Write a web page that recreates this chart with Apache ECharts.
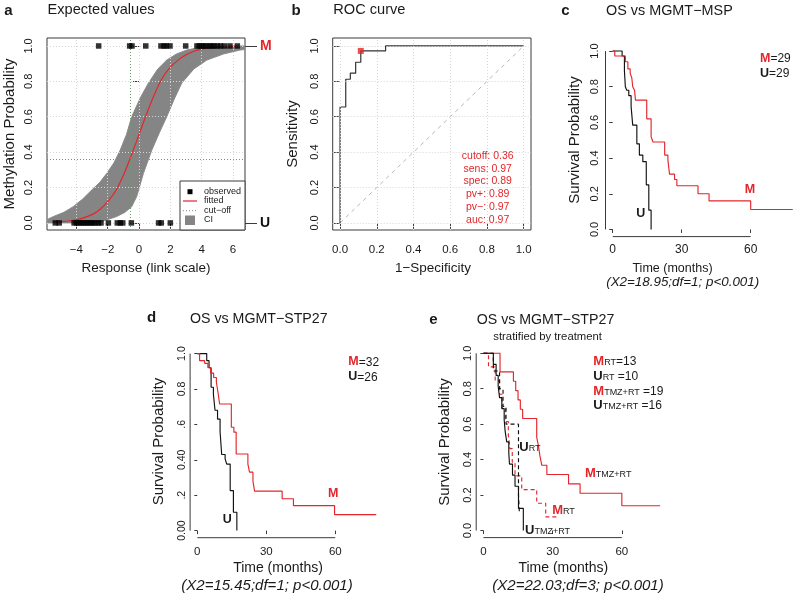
<!DOCTYPE html>
<html><head><meta charset="utf-8">
<script src="https://cdn.jsdelivr.net/npm/echarts@6/dist/echarts.min.js"></script>
<style>html,body{margin:0;padding:0;background:#fff}#c{width:793px;height:595px}</style>
</head><body><div id="c"></div>
<script>
// ===== Panel a: expected values =====
const aTicksX = [-4, -2, 0, 2, 4, 6];
const aTickLabelsX = ['\u22124', '\u22122', '0', '2', '4', '6'];
const probTicks = [0, 0.2, 0.4, 0.6, 0.8, 1];
const probTickLabels = ['0.0', '0.2', '0.4', '0.6', '0.8', '1.0'];
const dProbTickLabels = ['0.00', '.2', '0.40', '.6', '0.8', '1.0'];
const aRightTicks = [0, 1];
const aRightLabels = ['U', 'M'];
const aFitX = [-5.5, -5, -4.5, -4, -3.5, -3, -2.5, -2, -1.5, -1, -0.5, 0, 0.5, 1, 1.5, 2, 2.5, 3, 3.5, 4, 4.5, 5, 5.5, 6, 6.3];
const aFitY = [0.004, 0.007, 0.011, 0.018, 0.03, 0.047, 0.076, 0.12, 0.18, 0.27, 0.38, 0.5, 0.62, 0.73, 0.82, 0.88, 0.92, 0.95, 0.97, 0.982, 0.989, 0.993, 0.996, 0.998, 0.998];
const aCiUpperX = [-5.85, -5.47, -4.8, -4.2, -3.6, -3.02, -2.5, -2.06, -1.6, -1.21, -0.8, -0.47, 0.1, 0.6, 1.2, 1.77, 2.4, 3.05, 3.8, 4.5, 5.5, 6.75];
const aCiUpperY = [0.02, 0.036, 0.06, 0.092, 0.135, 0.186, 0.23, 0.28, 0.34, 0.41, 0.5, 0.6, 0.71, 0.79, 0.87, 0.92, 0.955, 0.977, 0.99, 0.995, 0.998, 1.0];
const aCiLowerX = [-5.85, -3.5, -2.5, -1.43, -0.9, -0.47, -0.15, 0.28, 0.81, 1.3, 1.77, 2.25, 2.73, 3.5, 4.33, 5.4, 6.45, 6.75];
const aCiLowerY = [0.0, 0.0, 0.005, 0.036, 0.06, 0.092, 0.149, 0.28, 0.41, 0.51, 0.6, 0.7, 0.79, 0.87, 0.92, 0.955, 0.977, 0.98];
const aObsM = [-2.58, -0.6, -0.45, 0.43, 1.4, 1.6, 1.75, 1.98, 2.98, 3.7, 3.85, 4.0, 4.15, 4.3, 4.5, 4.65, 4.8, 5.0, 5.2, 5.45, 5.81, 6.28];
const aObsU = [-5.35, -5.1, -4.15, -4.0, -3.85, -3.7, -3.55, -3.4, -3.25, -3.1, -2.95, -2.8, -2.6, -2.43, -1.96, -1.39, -1.2, -1.04, -0.49, 1.25, 1.42, 2.0];
const aCutoffResponse = -0.58;
const aCutoffProb = 0.36;

// ===== Panel b: ROC =====
const bTicks = [0, 0.2, 0.4, 0.6, 0.8, 1];
const bTickLabels = ['0.0', '0.2', '0.4', '0.6', '0.8', '1.0'];
const rocFpr = [0, 0, 0.031, 0.056, 0.085, 0.113, 0.248, 1];
const rocTpr = [0, 0.655, 0.812, 0.846, 0.908, 0.972, 1, 1];
const rocCut = [0.113, 0.972];
const chanceX = [0, 1];
const chanceY = [0, 1];
const rocStats = ['cutoff: 0.36', 'sens: 0.97', 'spec: 0.89', 'pv+: 0.89', 'pv\u2212: 0.97', 'auc: 0.97'];

// ===== KM panels =====
const timeTicks = [0, 30, 60];
const timeTickLabels = ['0', '30', '60'];
// c: OS vs MGMT-MSP
const cUTime = [0, 4.1, 5.1, 5.5, 6.1, 7.0, 8.0, 8.7, 10.5, 11.6, 13.1, 14.6, 15.7, 16.7];
const cUSurv = [1, 0.972, 0.89, 0.8, 0.78, 0.75, 0.69, 0.585, 0.48, 0.417, 0.38, 0.25, 0.108, 0];
const cMTime = [0, 0.9, 5.5, 6.6, 7.6, 8.3, 8.7, 9.5, 9.9, 14.8, 16.7, 17.5, 22.6, 24.0, 24.7, 26.9, 27.9, 37.1, 41.9, 60, 78.3];
const cMSurv = [1, 0.972, 0.94, 0.9, 0.875, 0.85, 0.8, 0.78, 0.725, 0.62, 0.52, 0.49, 0.417, 0.39, 0.31, 0.28, 0.245, 0.2, 0.16, 0.112, 0.112];
// d: OS vs MGMT-STP27
const dUTime = [0, 4.1, 5.1, 6.0, 7.0, 7.7, 8.8, 9.9, 10.6, 12.1, 12.8, 14.3, 15.7, 17.2];
const dUSurv = [1, 0.96, 0.92, 0.81, 0.77, 0.68, 0.63, 0.56, 0.43, 0.405, 0.376, 0.226, 0.104, 0];
const dMTime = [0, 1.0, 3.2, 4.6, 5.8, 7.1, 8.3, 9.0, 9.7, 14.8, 15.9, 16.9, 22.0, 22.7, 24.2, 24.9, 36.9, 41.8, 59.7, 77.8];
const dMSurv = [1, 0.96, 0.945, 0.92, 0.89, 0.865, 0.838, 0.78, 0.715, 0.584, 0.556, 0.433, 0.376, 0.33, 0.28, 0.223, 0.18, 0.141, 0.09, 0.09];
// e: stratified by treatment
const eMrtTime = [0, 2.2, 5.1, 7.0, 8.0, 9.5, 10.8, 11.5, 12.5, 13.7, 16.6, 23.1, 27.0, 31.8];
const eMrtSurv = [1, 0.923, 0.846, 0.769, 0.692, 0.615, 0.538, 0.462, 0.385, 0.308, 0.231, 0.154, 0.077, 0.077];
const eUrtTime = [0, 4.3, 7.0, 8.5, 9.8, 15.2, 15.6, 16.0];
const eUrtSurv = [1, 0.9, 0.8, 0.7, 0.6, 0.2, 0.1, 0.1];
const eMtmzTime = [0, 7.2, 13.0, 14.0, 15.0, 16.0, 17.0, 23.1, 23.9, 24.5, 25.3, 27.5, 36.9, 41.9, 60.0, 76.6];
const eMtmzSurv = [1, 0.895, 0.842, 0.789, 0.737, 0.684, 0.632, 0.526, 0.474, 0.421, 0.368, 0.316, 0.263, 0.21, 0.14, 0.14];
const eUtmzTime = [0, 4.3, 5.5, 6.4, 7.0, 8.0, 9.0, 9.4, 10.1, 11.0, 11.3, 12.6, 13.7, 15.2, 17.3];
const eUtmzSurv = [1, 0.9375, 0.875, 0.8125, 0.75, 0.6875, 0.625, 0.5625, 0.5, 0.4375, 0.375, 0.3125, 0.25, 0.125, 0];

// ===== styling =====
const FONT = "'Liberation Sans', Arial, Helvetica, sans-serif";
const RED = '#e3262b';
const AXC = '#3a3a3a';
const TXT = '#1a1a1a';
const CUTC = '#6a9d6a';
const KM_X = [-3.13, 81.4];
const PROB_Y = [-0.04, 1.04];

function lab(ticks, labels, v) {
  const i = ticks.findIndex(t => Math.abs(t - v) < 1e-6);
  return i < 0 ? '' : labels[i];
}
function xAx(gi, min, max, ticks, labels, o) {
  return {type: 'value', gridIndex: gi, min, max, position: 'bottom',
    axisLine: {show: false}, splitLine: {show: false},
    axisTick: {show: true, customValues: ticks, length: o.tick, lineStyle: {color: AXC, width: 1}},
    axisLabel: {show: true, customValues: ticks, margin: o.margin, fontSize: o.fs, fontFamily: FONT, color: TXT,
      formatter: v => lab(ticks, labels, v)}};
}
function yAx(gi, min, max, ticks, labels, o) {
  return {type: 'value', gridIndex: gi, min, max, position: o.pos || 'left',
    axisLine: {show: false}, splitLine: {show: false},
    axisTick: {show: true, customValues: ticks, length: o.tick, lineStyle: {color: AXC, width: 1}},
    axisLabel: {show: true, customValues: ticks, margin: o.margin, fontSize: o.fs, fontFamily: FONT, color: TXT,
      rotate: o.rot === undefined ? 90 : o.rot, rich: o.rich,
      formatter: o.fmt || (v => lab(ticks, labels, v))}};
}
const zip = (a, b) => a.map((v, i) => [v, b[i]]);
function km(xi, times, surv, color, dashed) {
  return {type: 'line', xAxisIndex: xi, yAxisIndex: xi + 1, step: 'end', data: zip(times, surv),
    symbol: 'none', showSymbol: false, clip: false, z: 5, silent: true,
    lineStyle: {color, width: 1.15, type: dashed ? [4, 3] : 'solid'}};
}
function axisLineSeries(xi, xt, yt) {
  const common = {type: 'line', xAxisIndex: xi, yAxisIndex: xi + 1, symbol: 'none', showSymbol: false,
    clip: false, silent: true, z: 4, lineStyle: {color: AXC, width: 1}};
  return [
    Object.assign({}, common, {data: [[xt[0], PROB_Y[0]], [xt[xt.length - 1], PROB_Y[0]]]}),
    Object.assign({}, common, {data: [[KM_X[0], yt[0]], [KM_X[0], yt[yt.length - 1]]]})
  ];
}
function gridLines(xi, yi, xs, ys) {
  return {type: 'line', xAxisIndex: xi, yAxisIndex: yi, data: [[xs[0], ys[0]]], symbol: 'none', showSymbol: false,
    lineStyle: {opacity: 0}, silent: true, z: 1,
    markLine: {silent: true, symbol: ['none', 'none'], label: {show: false}, animation: false,
      lineStyle: {type: [1, 2], color: '#d6d6d6', width: 1},
      data: [...xs.map(v => ({xAxis: v})), ...ys.map(v => ({yAxis: v}))]}};
}

// grids
const grids = [
  {left: 47, top: 38, width: 198, height: 192, show: true, borderColor: AXC, borderWidth: 1, backgroundColor: 'transparent'},
  {left: 332.7, top: 38, width: 198.3, height: 192, show: true, borderColor: AXC, borderWidth: 1, backgroundColor: 'transparent'},
  {left: 605.5, top: 43.9, width: 194.4, height: 192.7},
  {left: 190.1, top: 346.5, width: 194.4, height: 191.2},
  {left: 476.2, top: 346.2, width: 195.0, height: 191.4}
].map(g => Object.assign({containLabel: false, outerBoundsMode: 'none'}, g));

const xAxes = [
  xAx(0, -5.88, 6.77, aTicksX, aTickLabelsX, {tick: 6, margin: 14, fs: 11.5}),
  xAx(1, -0.04, 1.04, bTicks, bTickLabels, {tick: 6, margin: 14, fs: 11.5}),
  xAx(2, KM_X[0], KM_X[1], timeTicks, timeTickLabels, {tick: 3.5, margin: 7.5, fs: 12}),
  xAx(3, KM_X[0], KM_X[1], timeTicks, timeTickLabels, {tick: 3.5, margin: 8.5, fs: 11.5}),
  xAx(4, KM_X[0], KM_X[1], timeTicks, timeTickLabels, {tick: 3.5, margin: 8.5, fs: 11.5})
];
const yAxes = [
  yAx(0, -0.04, 1.045, probTicks, probTickLabels, {tick: 6, margin: 12.5, fs: 11}),
  yAx(0, -0.04, 1.045, aRightTicks, aRightLabels, {tick: 12, margin: 15, fs: 14, pos: 'right', rot: 0,
    rich: {m: {color: RED, fontWeight: 'bold', fontSize: 14, fontFamily: FONT}, u: {color: '#111', fontWeight: 'bold', fontSize: 14, fontFamily: FONT}},
    fmt: v => (lab(aRightTicks, aRightLabels, v) === 'M' ? '{m|M}' : '{u|U}')}),
  yAx(1, -0.04, 1.045, bTicks, bTickLabels, {tick: 6, margin: 12.5, fs: 11}),
  yAx(2, PROB_Y[0], PROB_Y[1], probTicks, probTickLabels, {tick: 3.5, margin: 5, fs: 11}),
  yAx(3, PROB_Y[0], PROB_Y[1], probTicks, dProbTickLabels, {tick: 3, margin: 2, fs: 10.5}),
  yAx(4, PROB_Y[0], PROB_Y[1], probTicks, probTickLabels, {tick: 3, margin: 3, fs: 11})
];

const series = [];
// ---- panel a ----
series.push(gridLines(0, 0, aTicksX, probTicks));
series.push({type: 'line', xAxisIndex: 0, yAxisIndex: 0, data: [[aCutoffResponse, aCutoffProb]], symbol: 'none', showSymbol: false,
  lineStyle: {opacity: 0}, silent: true, z: 2,
  markLine: {silent: true, symbol: ['none', 'none'], label: {show: false}, animation: false,
    lineStyle: {type: [1, 2], color: CUTC, width: 1},
    data: [{xAxis: aCutoffResponse}, {yAxis: aCutoffProb}]}});
series.push({type: 'custom', xAxisIndex: 0, yAxisIndex: 0, data: [[0, 0.5]], silent: true, z: 3,
  renderItem: (params, api) => {
    const pts = [];
    for (let i = 0; i < aCiUpperX.length; i++) pts.push(api.coord([aCiUpperX[i], aCiUpperY[i]]));
    for (let i = aCiLowerX.length - 1; i >= 0; i--) pts.push(api.coord([aCiLowerX[i], aCiLowerY[i]]));
    return {type: 'polygon', shape: {points: pts}, style: {fill: '#858585', stroke: '#8a8a8a', lineWidth: 1}};
  }});
series.push({type: 'line', xAxisIndex: 0, yAxisIndex: 0, data: zip(aFitX, aFitY), smooth: 0.3, symbol: 'none',
  showSymbol: false, silent: true, z: 4, lineStyle: {color: RED, width: 1.2}});
series.push({type: 'scatter', xAxisIndex: 0, yAxisIndex: 0, symbol: 'rect', symbolSize: 5.5, silent: true, z: 6,
  itemStyle: {color: '#000'}, data: [...aObsM.map(x => [x, 1]), ...aObsU.map(x => [x, 0])]});
// ---- panel b ----
series.push(gridLines(1, 2, bTicks, bTicks));
series.push({type: 'line', xAxisIndex: 1, yAxisIndex: 2, data: zip(chanceX, chanceY), symbol: 'none', showSymbol: false,
  silent: true, z: 3, lineStyle: {color: '#b8b8b8', width: 1, type: [4, 4]}});
series.push({type: 'line', xAxisIndex: 1, yAxisIndex: 2, data: zip(rocFpr, rocTpr), step: 'end', symbol: 'none', showSymbol: false,
  silent: true, z: 4, lineStyle: {color: '#333', width: 1.2}});
series.push({type: 'scatter', xAxisIndex: 1, yAxisIndex: 2, data: [rocCut], symbol: 'rect', symbolSize: 6, silent: true, z: 6,
  itemStyle: {color: RED}});
// ---- KM panels ----
series.push(...axisLineSeries(2, timeTicks, probTicks));
series.push(km(2, cUTime, cUSurv, '#111', false));
series.push(km(2, cMTime, cMSurv, RED, false));
series.push(...axisLineSeries(3, timeTicks, probTicks));
series.push(km(3, dUTime, dUSurv, '#111', false));
series.push(km(3, dMTime, dMSurv, RED, false));
series.push(...axisLineSeries(4, timeTicks, probTicks));
series.push(km(4, eMtmzTime, eMtmzSurv, RED, false));
series.push(km(4, eMrtTime, eMrtSurv, RED, true));
series.push(km(4, eUrtTime, eUrtSurv, '#111', true));
series.push(km(4, eUtmzTime, eUtmzSurv, '#111', false));

// ---- texts ----
const tFont = (s, o) => `${o.italic ? 'italic ' : ''}${o.bold ? 'bold ' : ''}${s}px ${FONT}`;
function T(x, y, text, size, o = {}) {
  const st = {text, font: tFont(size, o), fill: o.color || TXT,
    align: o.align || 'center', verticalAlign: 'middle', textAlign: o.align || 'center', textVerticalAlign: 'middle'};
  if (o.rich) st.rich = o.rich;
  return {type: 'text', x, y, rotation: o.rot || 0, z: 100, silent: true, style: st};
}
const R = (s, o = {}) => ({fontSize: s, fontFamily: FONT, fill: o.color || TXT, color: o.color || TXT,
  fontWeight: o.bold ? 'bold' : 'normal', verticalAlign: 'bottom'});
const richE = {m: R(13, {bold: true, color: RED}), u: R(13, {bold: true}), s: R(9), n: R(12)};
const richC = {m: R(12.5, {bold: true, color: RED}), u: R(12.5, {bold: true}), n: R(12)};
const UP = Math.PI / 2;

const graphics = [
  // panel a
  T(8.5, 10.5, 'a', 15, {bold: true}),
  T(47.5, 10, 'Expected values', 14.6, {align: 'left'}),
  T(10, 134, 'Methylation Probability', 15, {rot: UP}),
  T(146, 268, 'Response (link scale)', 13.5),
  {type: 'rect', z: 90, silent: true, shape: {x: 180, y: 181, width: 65, height: 49}, style: {fill: '#fff', stroke: AXC, lineWidth: 1}},
  {type: 'rect', z: 100, silent: true, shape: {x: 187.5, y: 189.2, width: 5, height: 5}, style: {fill: '#000'}},
  {type: 'line', z: 100, silent: true, shape: {x1: 183, y1: 201, x2: 197, y2: 201}, style: {stroke: RED, lineWidth: 1.2}},
  {type: 'line', z: 100, silent: true, shape: {x1: 183, y1: 210.7, x2: 197, y2: 210.7}, style: {stroke: CUTC, lineWidth: 1, lineDash: [1, 2]}},
  {type: 'rect', z: 100, silent: true, shape: {x: 185, y: 215.5, width: 10, height: 9.5}, style: {fill: '#858585'}},
  T(204, 191.7, 'observed', 9, {align: 'left'}),
  T(204, 201, 'fitted', 9, {align: 'left'}),
  T(204, 210.7, 'cut\u2212off', 9, {align: 'left'}),
  T(204, 220, 'CI', 9, {align: 'left'}),
  // panel b
  T(296, 10.5, 'b', 15, {bold: true}),
  T(333.3, 10, 'ROC curve', 14.6, {align: 'left'}),
  T(293, 134, 'Sensitivity', 15, {rot: UP}),
  T(433, 268, '1\u2212Specificity', 13.5),
  ...rocStats.map((s, i) => T(487.7, 156 + i * 12.8, s, 10.5, {color: RED})),
  // panel c
  T(565.5, 10.5, 'c', 15, {bold: true}),
  T(606, 11, 'OS vs MGMT\u2212MSP', 14.4, {align: 'left'}),
  T(575, 140, 'Survival Probability', 15, {rot: UP}),
  T(672.5, 268.3, 'Time (months)', 12.5),
  T(682.7, 282.7, '(X2=18.95;df=1; p<0.001)', 13.4, {italic: true}),
  T(760, 58.3, '{m|M}{n|=29}', 12, {align: 'left', rich: richC}),
  T(760, 73.3, '{u|U}{n|=29}', 12, {align: 'left', rich: richC}),
  T(750, 190, 'M', 12.5, {bold: true, color: RED}),
  T(640.7, 213.3, 'U', 12.5, {bold: true}),
  // panel d
  T(151.7, 318.3, 'd', 15, {bold: true}),
  T(190, 319.5, 'OS vs MGMT\u2212STP27', 14.2, {align: 'left'}),
  T(159, 441.5, 'Survival Probability', 15, {rot: UP}),
  T(278, 568.3, 'Time (months)', 14),
  T(267, 585.7, '(X2=15.45;df=1; p<0.001)', 15, {italic: true}),
  T(348.3, 361.7, '{m|M}{n|=32}', 12, {align: 'left', rich: richC}),
  T(348.3, 376.7, '{u|U}{n|=26}', 12, {align: 'left', rich: richC}),
  T(333.3, 493.3, 'M', 12.5, {bold: true, color: RED}),
  T(227.3, 520, 'U', 12.5, {bold: true}),
  // panel e
  T(433.3, 320, 'e', 15, {bold: true}),
  T(476.7, 320, 'OS vs MGMT\u2212STP27', 14.2, {align: 'left'}),
  T(493.3, 337, 'stratified by treatment', 11.3, {align: 'left'}),
  T(444.5, 442, 'Survival Probability', 15, {rot: UP}),
  T(563.3, 568.3, 'Time (months)', 14),
  T(578, 585.7, '(X2=22.03;df=3; p<0.001)', 15, {italic: true}),
  T(593.3, 361, '{m|M}{s|RT}{n|=13}', 12, {align: 'left', rich: richE}),
  T(593.3, 376, '{u|U}{s|RT}{n| =10}', 12, {align: 'left', rich: richE}),
  T(593.3, 391, '{m|M}{s|TMZ+RT}{n| =19}', 12, {align: 'left', rich: richE}),
  T(593.3, 405, '{u|U}{s|TMZ+RT}{n| =16}', 12, {align: 'left', rich: richE}),
  T(519.3, 447, '{u|U}{s|RT}', 12, {align: 'left', rich: richE}),
  T(585, 473, '{m|M}{s|TMZ+RT}', 12, {align: 'left', rich: richE}),
  T(552.2, 510, '{m|M}{s|RT}', 12, {align: 'left', rich: richE}),
  T(525, 530, '{u|U}{s|TMZ+RT}', 12, {align: 'left', rich: richE})
];

const chart = echarts.init(document.getElementById('c'), null, {renderer: 'canvas', width: 793, height: 595});
chart.setOption({
  animation: false,
  backgroundColor: '#fff',
  grid: grids,
  xAxis: xAxes,
  yAxis: yAxes,
  series,
  graphic: {elements: graphics}
});
</script>
</body></html>
